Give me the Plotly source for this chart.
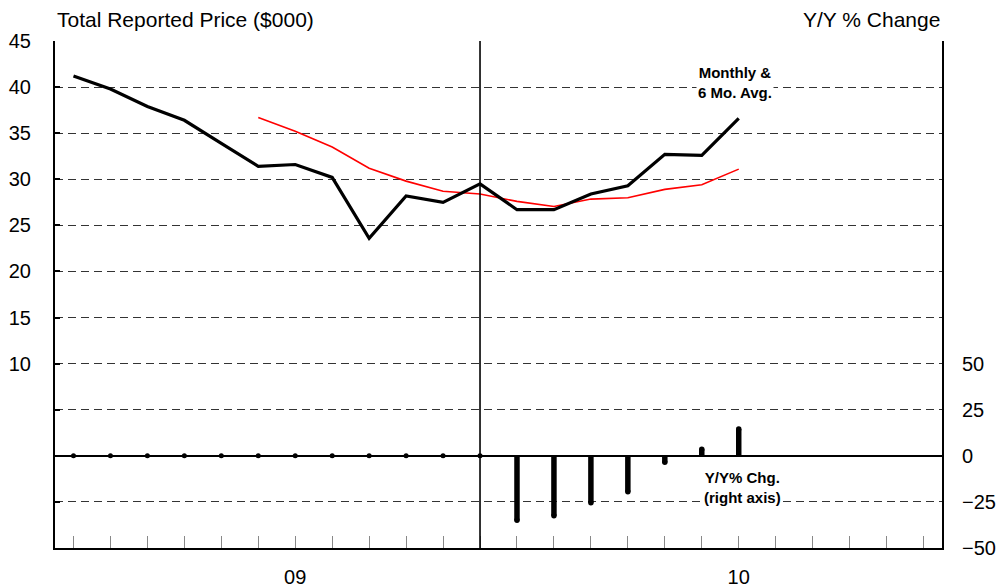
import plotly.graph_objects as go

# ---- data ----
months = ["2009-01","2009-02","2009-03","2009-04","2009-05","2009-06","2009-07","2009-08",
          "2009-09","2009-10","2009-11","2009-12","2010-01","2010-02","2010-03","2010-04",
          "2010-05","2010-06","2010-07","2010-08","2010-09","2010-10","2010-11","2010-12"]
monthly_price = [41.2, 39.8, 37.9, 36.4, 33.9, 31.4, 31.6, 30.2, 23.6, 28.2, 27.5, 29.5,
                 26.7, 26.7, 28.4, 29.3, 32.7, 32.6, 36.6]
avg6_price = [None, None, None, None, None, 36.7, 35.2, 33.5, 31.2, 29.8, 28.7, 28.4,
              27.6, 27.05, 27.85, 28.0, 28.9, 29.4, 31.1]
yoy_change = [0, 0, 0, 0, 0, 0, 0, 0, 0, 0, 0, 0,
              -35.0, -32.5, -25.5, -19.5, -3.5, 3.5, 14.5]
year_ticks = ["09", "10"]
year_tick_months = ["2009-07", "2010-07"]
divider_month = "2009-12"
left_ticks = [-5, 0, 5, 10, 15, 20, 25, 30, 35, 40, 45]
right_ticks = [-50, -25, 0, 25, 50]

idx = {m: i for i, m in enumerate(months)}
xs = list(range(len(monthly_price)))

FONT = "Liberation Sans, Arial, sans-serif"
FS = 20

fig = go.Figure()

# Y/Y change bars (right axis) built as vertical segments
bx, by = [], []
for i, v in zip(xs, yoy_change):
    if v != 0:
        bx += [i, i, None]
        by += [0, v, None]
fig.add_trace(go.Scatter(x=bx, y=by, yaxis="y2", mode="lines",
                         line=dict(color="black", width=5.5), hoverinfo="skip"))
# rounded ends
ex = [i for i, v in zip(xs, yoy_change) if v != 0]
ey = [v for v in yoy_change if v != 0]
fig.add_trace(go.Scatter(x=ex, y=ey, yaxis="y2", mode="markers",
                         marker=dict(color="black", size=5.5, line=dict(width=0)),
                         hoverinfo="skip"))
# dots at zero
zx = [i for i, v in zip(xs, yoy_change) if v == 0]
zy = [v for v in yoy_change if v == 0]
fig.add_trace(go.Scatter(x=zx, y=zy, yaxis="y2", mode="markers",
                         marker=dict(color="black", size=5, line=dict(width=0)),
                         hoverinfo="skip"))

# 6 month average (red)
fig.add_trace(go.Scatter(x=xs, y=avg6_price, mode="lines",
                         line=dict(color="#ff0000", width=1.6), hoverinfo="skip"))
# monthly (black)
fig.add_trace(go.Scatter(x=xs, y=monthly_price, mode="lines",
                         line=dict(color="black", width=3.2), hoverinfo="skip"))

# divider line
fig.add_shape(type="line", xref="x", yref="paper", x0=idx[divider_month], x1=idx[divider_month],
              y0=0, y1=1, line=dict(color="black", width=1.6), layer="above")

fig.update_layout(
    width=996, height=587,
    margin=dict(l=55, r=54, t=41, b=39, autoexpand=False),
    paper_bgcolor="white", plot_bgcolor="white",
    showlegend=False, hovermode=False,
    font=dict(family=FONT, size=FS, color="black"),
    xaxis=dict(
        automargin=False,
        range=[-0.5, 23.5], showgrid=False, zeroline=False,
        tickvals=[idx[m] for m in year_tick_months], ticktext=year_ticks,
        ticks="inside", ticklen=12, tickcolor="#888", tickwidth=1.2,
        minor=dict(tick0=0, dtick=1, ticks="inside", ticklen=12, tickcolor="#888", tickwidth=1.2, showgrid=False),
        showline=True, linecolor="black", linewidth=2,
        ticklabelstandoff=10,
        tickfont=dict(size=FS),
    ),
    yaxis=dict(
        automargin=False,
        range=[-10, 45], tickvals=left_ticks,
        ticktext=[str(t) if t >= 10 else "" for t in left_ticks],
        showgrid=True, gridcolor="#333", gridwidth=1, griddash="8px,5px",
        zeroline=True, zerolinecolor="black", zerolinewidth=2,
        showline=True, linecolor="black", linewidth=2,
        ticks="inside", ticklen=5, tickcolor="black", tickwidth=1.5,
        ticklabelstandoff=18,
        tickfont=dict(size=FS),
    ),
    yaxis2=dict(
        automargin=False,
        overlaying="y", side="right", range=[-50, 225], tickvals=right_ticks,
        showgrid=False, zeroline=False,
        showline=True, linecolor="black", linewidth=2,
        ticks="", ticklabelstandoff=14,
        tickfont=dict(size=FS),
    ),
)

fig.add_annotation(text="Total Reported Price ($000)", xref="paper", yref="paper",
                   x=0, y=1, yshift=22, xanchor="left", yanchor="middle",
                   showarrow=False, font=dict(size=21))
fig.add_annotation(text="Y/Y % Change", xref="paper", yref="paper",
                   x=1, y=1, yshift=22, xanchor="right", yanchor="middle",
                   showarrow=False, font=dict(size=21))
fig.add_annotation(text="<b>Monthly &amp;<br>6 Mo. Avg.</b>", xref="x", yref="y",
                   x=17.9, y=40, yshift=5, xanchor="center", yanchor="middle",
                   showarrow=False, bgcolor="white", font=dict(size=15))
fig.add_annotation(text="<b>Y/Y% Chg.<br>(right axis)</b>", xref="x", yref="y2",
                   x=18.1, y=-17, xanchor="center", yanchor="middle",
                   showarrow=False, bgcolor="white", font=dict(size=15))

fig.write_html("out.html",
               config={"displayModeBar": False},
               post_script="document.body.style.margin='0';document.body.style.overflow='hidden';")
